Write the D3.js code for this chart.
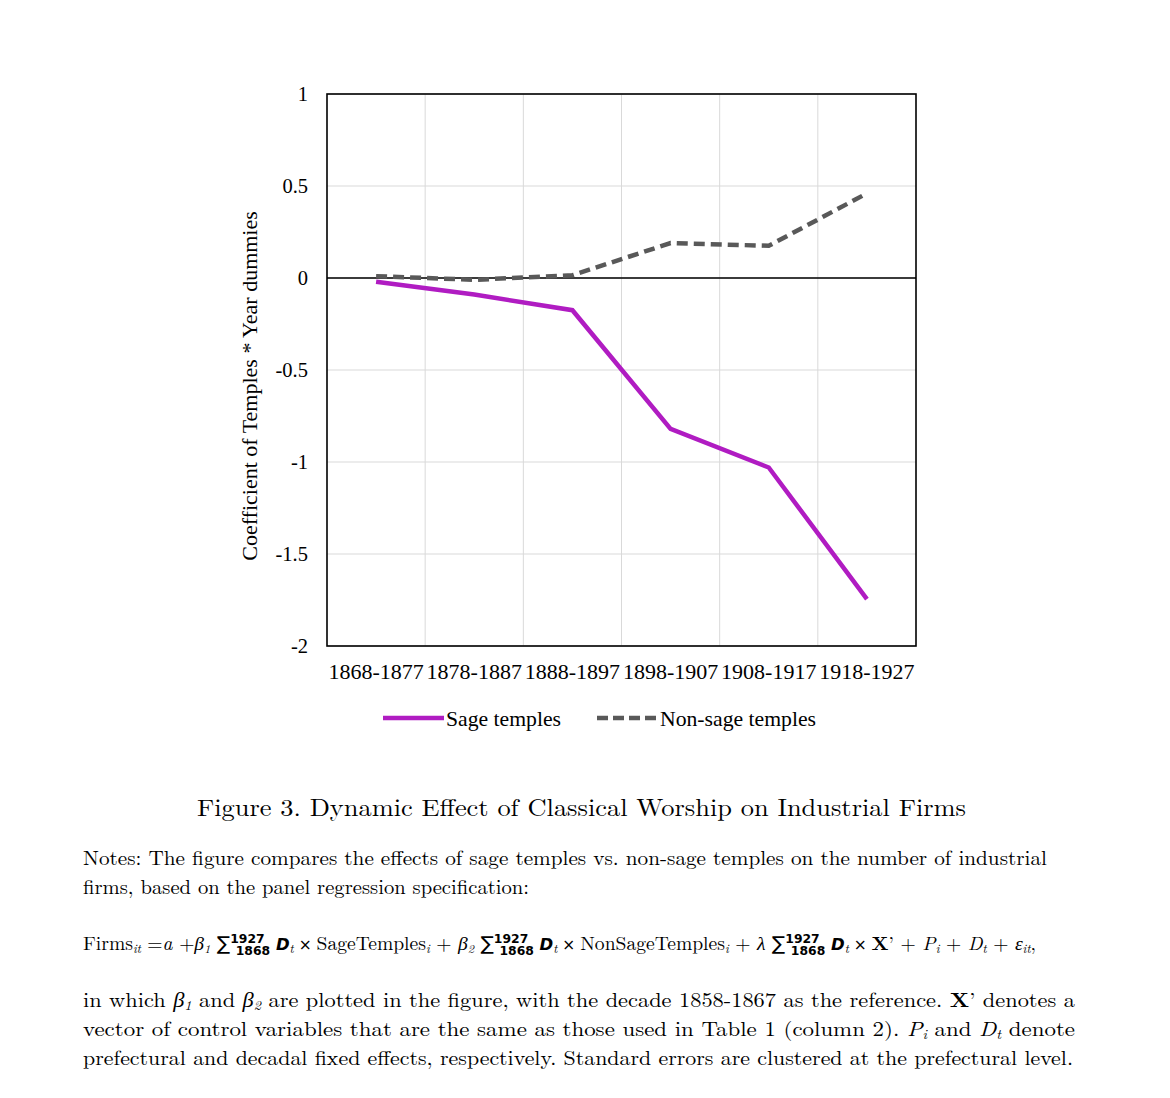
<!DOCTYPE html>
<html><head><meta charset="utf-8">
<script src="https://cdn.jsdelivr.net/npm/d3@7"></script>
<style>body{margin:0;background:#fff}svg{display:block}</style>
</head><body>
<svg id="c" width="1170" height="1098"></svg>
<script>
const categories = ["1868-1877","1878-1887","1888-1897","1898-1907","1908-1917","1918-1927"];
const sageValues = [-0.02, -0.09, -0.175, -0.82, -1.03, -1.745];
const nonSageValues = [0.01, -0.01, 0.015, 0.19, 0.175, 0.46];
const yTicks = [1, 0.5, 0, -0.5, -1, -1.5, -2];
const seriesNames = ["Sage temples", "Non-sage temples"];
const yTitle = "Coefficient of Temples * Year dummies";
const captionTitle = "Figure 3. Dynamic Effect of Classical Worship on Industrial Firms";

const svg = d3.select("#c");
const L = 327, R = 916, T = 94, B = 646;
const x = d3.scaleBand().domain(categories).range([L, R]);
const y = d3.scaleLinear().domain([-2, 1]).range([B, T]);
const serif = "'Liberation Serif','Times New Roman',serif";

// gridlines
svg.append("g").selectAll("line.h").data(yTicks).join("line")
  .attr("x1", L).attr("x2", R).attr("y1", d => y(d)).attr("y2", d => y(d))
  .attr("stroke", "#d9d9d9").attr("stroke-width", 1);
svg.append("g").selectAll("line.v").data(categories.slice(1)).join("line")
  .attr("x1", d => x(d)).attr("x2", d => x(d)).attr("y1", T).attr("y2", B)
  .attr("stroke", "#d9d9d9").attr("stroke-width", 1);
// zero line
svg.append("line").attr("x1", L).attr("x2", R).attr("y1", y(0)).attr("y2", y(0))
  .attr("stroke", "#000").attr("stroke-width", 1.3);
// frame
svg.append("rect").attr("x", L).attr("y", T).attr("width", R - L).attr("height", B - T)
  .attr("fill", "none").attr("stroke", "#000").attr("stroke-width", 1.6);

// y ticks
const yAxis = d3.axisLeft(y).tickValues(yTicks).tickSize(0).tickPadding(19)
  .tickFormat(d => String(d));
const ga = svg.append("g").attr("transform", `translate(${L},0)`).call(yAxis);
ga.select(".domain").remove();
ga.selectAll("text").attr("font-family", serif).attr("font-size", 20.5).attr("fill", "#000");

// x ticks
const xAxis = d3.axisBottom(x).tickSize(0).tickPadding(17);
const gx = svg.append("g").attr("transform", `translate(0,${B})`).call(xAxis);
gx.select(".domain").remove();
gx.selectAll("text").attr("font-family", serif).attr("font-size", 22).attr("fill", "#000");

// y title
svg.append("text").attr("transform", `translate(257,${(T + B) / 2 + 16}) rotate(-90)`)
  .attr("text-anchor", "middle").attr("font-family", serif).attr("font-size", 22)
  .text(yTitle);

const line = d3.line().x((d, i) => x(categories[i]) + x.bandwidth() / 2).y(d => y(d));
svg.append("path").datum(sageValues).attr("d", line).attr("fill", "none")
  .attr("stroke", "#b01cc2").attr("stroke-width", 4.5).attr("stroke-linejoin", "miter");
svg.append("path").datum(nonSageValues).attr("d", line).attr("fill", "none")
  .attr("stroke", "#595959").attr("stroke-width", 4.5).attr("stroke-dasharray", "11,6");

// legend
const lg = svg.append("g");
lg.append("line").attr("x1", 383).attr("x2", 444).attr("y1", 718).attr("y2", 718)
  .attr("stroke", "#b01cc2").attr("stroke-width", 4.5);
lg.append("text").attr("x", 446).attr("y", 726).attr("font-family", serif).attr("font-size", 21.7).text(seriesNames[0]);
lg.append("line").attr("x1", 597).attr("x2", 657).attr("y1", 718).attr("y2", 718)
  .attr("stroke", "#595959").attr("stroke-width", 4.5).attr("stroke-dasharray", "11,5");
lg.append("text").attr("x", 660).attr("y", 726).attr("font-family", serif).attr("font-size", 21.7).text(seriesNames[1]);

// caption
const cap = "'Latin Modern Roman','CMU Serif','Liberation Serif',serif";
svg.append("text").attr("x", 197).attr("y", 816).attr("font-family", cap).attr("font-size", 24)
  .attr("textLength", 769).attr("lengthAdjust", "spacingAndGlyphs").text(captionTitle);

const notes = [
  {t: "Notes: The figure compares the effects of sage temples vs. non-sage temples on the number of industrial", y: 865, w: 964},
  {t: "firms, based on the panel regression specification:", y: 894, w: 446}
];
notes.forEach(n => svg.append("text").attr("x", 83).attr("y", n.y).attr("font-family", cap)
  .attr("font-size", 20.5).attr("textLength", n.w).attr("lengthAdjust", "spacingAndGlyphs").text(n.t));

// formula
function rich(yy, parts, w, fs) {
  const t = svg.append("text").attr("x", 83).attr("y", yy).attr("font-family", cap).attr("font-size", fs || 18);
  if (w) t.attr("textLength", w).attr("lengthAdjust", "spacingAndGlyphs");
  parts.forEach(p => {
    const s = t.append("tspan").text(p.s);
    if (p.i) s.attr("font-style", "italic");
    if (p.b) s.attr("font-weight", "bold");
    if (p.fs) s.attr("font-size", p.fs);
    if (p.dy) s.attr("dy", p.dy);
    if (p.dx) s.attr("dx", p.dx);
    if (p.ff) s.attr("font-family", p.ff);
  });
  return t;
}
const sans = "'DejaVu Sans',sans-serif";
function sumParts() {
  return [
    {s: "\u2211", fs: 19, ff: sans},
    {s: "1927", fs: 12, dy: -7, ff: sans, b: 1},
    {s: "1868", fs: 12, dy: 12, dx: -28, ff: sans, b: 1},
    {s: " D", i: 1, dy: -5, ff: sans, b: 1, fs: 16},
    {s: "t", i: 1, fs: 12, dy: 3},
    {s: " \u00d7 ", dy: -3, ff: sans, fs: 15}
  ];
}
rich(950, [
  {s: "Firms"}, {s: "it", i: 1, fs: 12, dy: 3}, {s: " =", dy: -3}, {s: "a", i: 1}, {s: " +"}, {s: "\u03b2", i: 1}, {s: "1", i: 1, fs: 12, dy: 3}, {s: " ", dy: -3},
  ...sumParts(),
  {s: "SageTemples"}, {s: "i", i: 1, fs: 12, dy: 3}, {s: " + ", dy: -3}, {s: "\u03b2", i: 1}, {s: "2", i: 1, fs: 12, dy: 3}, {s: " ", dy: -3},
  ...sumParts(),
  {s: "NonSageTemples"}, {s: "i", i: 1, fs: 12, dy: 3}, {s: " + ", dy: -3}, {s: "\u03bb", i: 1}, {s: " "},
  ...sumParts(),
  {s: "X", b: 1}, {s: "\u2019 + "}, {s: "P", i: 1}, {s: "i", i: 1, fs: 12, dy: 3}, {s: " + ", dy: -3}, {s: "D", i: 1}, {s: "t", i: 1, fs: 12, dy: 3}, {s: " + ", dy: -3}, {s: "\u03b5", i: 1}, {s: "it", i: 1, fs: 12, dy: 3}, {s: ",", dy: -3}
], 953, 19);

rich(1007, [
  {s: "in which "}, {s: "\u03b2", i: 1}, {s: "1", i: 1, fs: 13, dy: 3}, {s: " and ", dy: -3}, {s: "\u03b2", i: 1}, {s: "2", i: 1, fs: 13, dy: 3},
  {s: " are plotted in the figure, with the decade 1858-1867 as the reference. ", dy: -3}, {s: "X", b: 1}, {s: "\u2019 denotes a"}
], 992, 20.5);
rich(1036, [
  {s: "vector of control variables that are the same as those used in Table 1 (column 2). "}, {s: "P", i: 1}, {s: "i", i: 1, fs: 13, dy: 3},
  {s: " and ", dy: -3}, {s: "D", i: 1}, {s: "t", i: 1, fs: 13, dy: 3}, {s: " denote", dy: -3}
], 992, 20.5);
rich(1065, [
  {s: "prefectural and decadal fixed effects, respectively. Standard errors are clustered at the prefectural level."}
], 990, 20.5);
</script>
</body></html>
